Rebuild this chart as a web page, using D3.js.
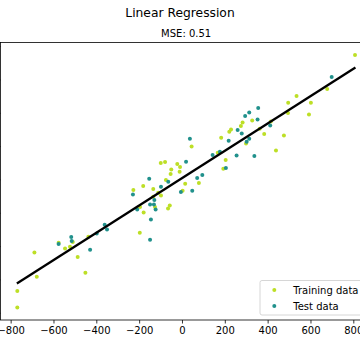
<!DOCTYPE html>
<html><head><meta charset="utf-8">
<script src="https://cdn.jsdelivr.net/npm/d3@7"></script>
<style>body{margin:0;background:#fff}svg{display:block;font-family:"DejaVu Sans",sans-serif}</style>
</head><body>
<script>
const title = "Linear Regression";
const subtitle = "MSE: 0.51";
const seriesNames = ["Training data", "Test data"];
const xTicks = [-800, -600, -400, -200, 0, 200, 400, 600, 800];

const trainX = [-769,-769,-689,-678,-576,-546,-510,-523,-487,-451,-437,-227,-181,-197,-196,-179,-134,-111,-98,-134,-126,-57,-65,-75,-99,-79,-22,-9,-50,-53,-11,15,3,79,45,283,275,328,229,221,183,299,363,384,415,476,439,167,204,193,808,678,535,496,602,495,593];
const trainY = [-670,-768,-438,-584,-380,-414,-376,-404,-466,-560,-344,-64,-40,-320,-166,-198,-58,-80,-96,-104,-166,-156,-174,-4,98,104,92,74,60,32,46,-26,-68,-22,198,342,320,354,300,286,250,216,304,272,348,264,174,160,116,64,746,542,500,460,460,398,390];
const testX = [-576,-517,-515,-429,-398,-361,-350,-229,-153,-209,-149,-131,-129,-123,-145,-149,-98,-64,19,-5,48,71,95,37,356,314,295,353,260,279,218,314,302,412,338,255,177,143,205,699];
const testY = [-388,-346,-370,-422,-324,-272,-300,-90,4,-180,-150,-150,-124,-180,-240,-362,-44,-14,106,-76,-68,8,26,244,428,402,380,360,296,276,232,244,226,324,140,144,166,146,68,614];
// fitted model: y = slope * x + intercept
const slope = 0.820;
const intercept = 7.2;

const colTrain = "#bddf26", colTest = "#21918c";
const W = 360, H = 360;
const plot = {left: 0.4, right: 371.9, top: 42.5, bottom: 320};

const svg = d3.select("body").append("svg").attr("width", W).attr("height", H);

const allX = trainX.concat(testX), allY = trainY.concat(testY);
const pad = (ext) => { const s = ext[1] - ext[0]; return [ext[0] - 0.05 * s, ext[1] + 0.05 * s]; };
const x = d3.scaleLinear().domain(pad(d3.extent(allX))).range([plot.left, plot.right]);
const y = d3.scaleLinear().domain(pad(d3.extent(allY))).range([plot.bottom, plot.top]);

const train = trainX.map((v, i) => [v, trainY[i]]);
const test = testX.map((v, i) => [v, testY[i]]);

const g = svg.append("g");
g.selectAll("circle.tr").data(train).join("circle").attr("class", "tr")
  .attr("cx", d => x(d[0])).attr("cy", d => y(d[1])).attr("r", 2).attr("fill", colTrain);
g.selectAll("circle.te").data(test).join("circle").attr("class", "te")
  .attr("cx", d => x(d[0])).attr("cy", d => y(d[1])).attr("r", 2).attr("fill", colTest);

const xe = d3.extent(allX);
const lineData = [xe[0] - 2, xe[1] + 2].map(v => [v, slope * v + intercept]);
g.append("path").datum(lineData)
  .attr("d", d3.line().x(d => x(d[0])).y(d => y(d[1])))
  .attr("stroke", "#000").attr("stroke-width", 2.3).attr("fill", "none");

// frame
svg.append("rect").attr("x", plot.left).attr("y", plot.top)
  .attr("width", plot.right - plot.left).attr("height", plot.bottom - plot.top)
  .attr("fill", "none").attr("stroke", "#000").attr("stroke-width", 0.8);

// x axis
const xAxis = d3.axisBottom(x).tickValues(xTicks).tickSize(3.5).tickPadding(3.5)
  .tickFormat(d => d3.format("")(d).replace("-", "\u2212"));
const ax = svg.append("g").attr("transform", `translate(0,${plot.bottom})`).call(xAxis);
ax.select(".domain").remove();
ax.selectAll(".tick line").attr("stroke", "#000").attr("stroke-width", 0.8);
ax.selectAll(".tick text").attr("font-family", "DejaVu Sans").attr("font-size", 10).attr("fill", "#000");

// y axis (ticks fall outside the visible area)
const yAxis = d3.axisLeft(y).ticks(8).tickSize(3.5);
const ay = svg.append("g").attr("transform", `translate(${plot.left},0)`).call(yAxis);
ay.select(".domain").remove();
ay.selectAll("text").remove();

// titles
svg.append("text").attr("x", W / 2).attr("y", 17.3).attr("text-anchor", "middle")
  .attr("font-size", 12.3).attr("fill", "#000").text(title);
svg.append("text").attr("x", (plot.left + plot.right) / 2).attr("y", 36.7).attr("text-anchor", "middle")
  .attr("font-size", 10).attr("fill", "#000").text(subtitle);

// legend
const lg = svg.append("g");
const lx = 260, ly = 280.5, lw = 107, lh = 34.5;
lg.append("rect").attr("x", lx).attr("y", ly).attr("width", lw).attr("height", lh)
  .attr("rx", 2).attr("fill", "#fff").attr("fill-opacity", 0.8)
  .attr("stroke", "#cccccc").attr("stroke-width", 0.8);
const items = [[seriesNames[0], colTrain], [seriesNames[1], colTest]];
items.forEach((it, i) => {
  const cy = ly + 9.5 + i * 16;
  lg.append("circle").attr("cx", lx + 14.3).attr("cy", cy).attr("r", 2).attr("fill", it[1]);
  lg.append("text").attr("x", lx + 33.3).attr("y", cy + 3.6).attr("font-size", 10).attr("fill", "#000").text(it[0]);
});
</script>
</body></html>
